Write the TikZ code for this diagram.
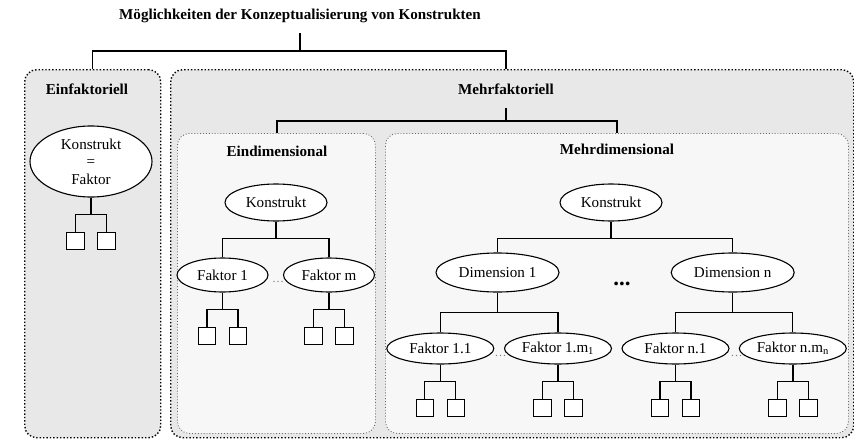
\documentclass[tikz,border=0pt]{standalone}
\usepackage{fontspec}
\setmainfont{Liberation Serif}
\usetikzlibrary{shapes.geometric}
\definecolor{outergray}{HTML}{E8E8E8}
\definecolor{innergray}{HTML}{F7F7F7}
\definecolor{innerrule}{HTML}{6A6A6A}
% two indicator squares hanging below a factor node
\newcommand\indicators[1]{%
  \path (#1.south) ++(0,17) coordinate (#1-j);
  \node[leaf, anchor=north] (#1-a) at ([shift={(-15.5,17)}]#1-j) {};
  \node[leaf, anchor=north] (#1-b) at ([shift={(15.5,17)}]#1-j) {};
  \draw[stem] (#1.south) -- (#1-j);
  \draw[branch] (#1-a.north) |- (#1-j) -| (#1-b.north);
}
\begin{document}
\begin{tikzpicture}[x=1pt,y=-1pt,
  every node/.style={font=\fontsize{15.1}{17.5}\selectfont},
  outerbox/.style={draw=black, dotted, line width=1.4pt, rounded corners=12pt,
    fill=outergray, inner sep=0pt, anchor=north west},
  innerbox/.style={draw=innerrule, dotted, line width=0.9pt, rounded corners=12pt,
    fill=innergray, inner sep=0pt, anchor=north west},
  heading/.style={font=\fontsize{15.1}{17.5}\selectfont\bfseries},
  oval/.style={ellipse, draw, fill=white, line width=1.1pt, inner sep=0pt},
  leaf/.style={draw, fill=white, line width=1.1pt, minimum size=17.5pt, inner sep=0pt},
  stem/.style={line width=1.4pt},
  branch/.style={line width=1.1pt},
  topline/.style={line width=1.9pt},
  fewdots/.style={text=gray, font=\fontsize{12}{12}\selectfont},
]
\useasboundingbox (0,0) rectangle (854,439);

% frames
\node[outerbox, minimum width=136pt, minimum height=368pt] (einf) at (24,69) {};
\node[outerbox, minimum width=683pt, minimum height=368pt] (mehr) at (170,69) {};
\node[innerbox, minimum width=198pt, minimum height=300pt] (eind) at (177,133) {};
\node[innerbox, minimum width=463pt, minimum height=300pt] (mehrd) at (385,133) {};

% headings
\node[heading] (title) at (300,16) {Möglichkeiten der Konzeptualisierung von Konstrukten};
\node[heading] (einfl) at (87,89) {Einfaktoriell};
\node[heading] (mehrl) at (506,89) {Mehrfaktoriell};
\node[heading] (eindl) at (277,151) {Eindimensional};
\node[heading] (mehrdl) at (617,149) {Mehrdimensional};

% top level connectors
\coordinate (titlefoot) at (300,33);
\coordinate (topj) at (300,51);
\draw[topline] (titlefoot) -- (topj);
\draw[branch] (einf.north) |- (topj) -| (mehrl |- mehr.north);

\coordinate (mehrfoot) at (506,108);
\coordinate (mehrj) at (506,121);
\draw[topline] (mehrfoot) -- (mehrj);
\draw[branch] (eindl |- eind.north) |- (mehrj) -| (mehrdl |- mehrd.north);

% single factor
\node[oval, minimum width=122pt, minimum height=71pt, align=center] (k0) at (91,161.5)
  {Konstrukt\\=\\Faktor};
\indicators{k0}

% one dimension
\node[oval, minimum width=102pt, minimum height=37pt] (k1) at (276,202.5) {Konstrukt};
\node[oval, minimum width=91pt, minimum height=34pt] (f1) at (222.5,275) {Faktor 1};
\node[oval, minimum width=91pt, minimum height=34pt] (fm) at (329,275) {Faktor m};
\draw[stem] (k1.south) -- ++(0,16.5) coordinate (k1-j);
\draw[branch] (f1.north) |- (k1-j) -| (fm.north);
\node[fewdots] (d1) at (278,282) {\dots};
\indicators{f1}
\indicators{fm}

% several dimensions
\node[oval, minimum width=102pt, minimum height=37pt] (k2) at (611,202.5) {Konstrukt};
\node[oval, minimum width=123pt, minimum height=39pt] (dim1) at (497.5,272.5) {Dimension 1};
\node[oval, minimum width=123pt, minimum height=39pt] (dimn) at (732.7,272.5) {Dimension n};
\draw[stem] (k2.south) -- ++(0,16.5) coordinate (k2-j);
\draw[branch] (dim1.north) |- (k2-j) -| (dimn.north);
\node[font=\fontsize{23}{23}\selectfont\bfseries] (d2) at (622,284) {...};

\node[oval, minimum width=107pt, minimum height=31pt] (f11) at (440.3,348.5) {Faktor 1.1};
\node[oval, minimum width=107pt, minimum height=31pt] (f1m) at (558,348.5) {Faktor 1.m\textsubscript{1}};
\node[oval, minimum width=107pt, minimum height=31pt] (fn1) at (675.5,348.5) {Faktor n.1};
\node[oval, minimum width=107pt, minimum height=31pt] (fnm) at (792.8,348.5) {Faktor n.m\textsubscript{n}};
\draw[stem] (dim1.south) -- ++(0,19.5) coordinate (dim1-j);
\draw[branch] (f11.north) |- (dim1-j) -| (f1m.north);
\draw[stem] (dimn.south) -- ++(0,19.5) coordinate (dimn-j);
\draw[branch] (fn1.north) |- (dimn-j) -| (fnm.north);
\node[fewdots] (d3) at (500.7,356) {\dots};
\node[fewdots] (d4) at (736.7,356) {\dots};

\indicators{f11}
\indicators{f1m}
\indicators{fn1}
\indicators{fnm}
\end{tikzpicture}
\end{document}
